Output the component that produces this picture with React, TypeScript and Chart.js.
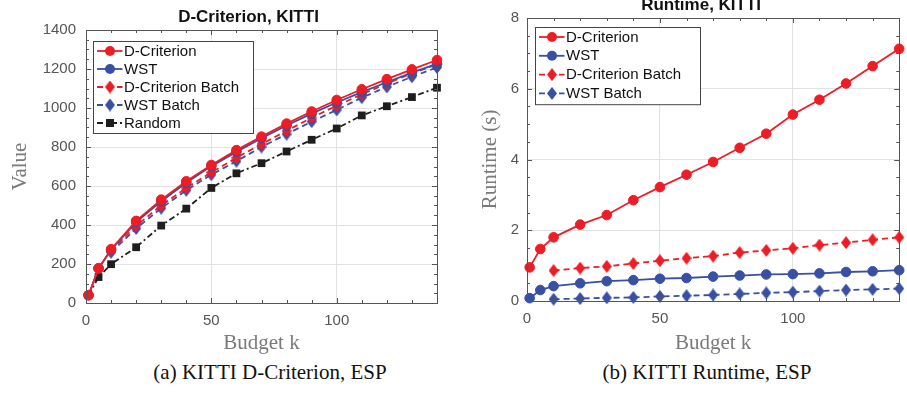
import React, { useEffect, useRef } from "react";
import { Chart, registerables } from "chart.js";

Chart.register(...registerables);

// ---------- data ----------
const budgets = [1, 5, 10, 20, 30, 40, 50, 60, 70, 80, 90, 100, 110, 120, 130, 140];
const batchBudgets = [10, 20, 30, 40, 50, 60, 70, 80, 90, 100, 110, 120, 130, 140];

const valueDCrit = [40, 178, 276, 421, 530, 624, 708, 784, 853, 920, 982, 1041, 1096, 1148, 1198, 1246];
const valueWST = [40, 177, 272, 415, 522, 617, 702, 775, 845, 910, 971, 1028, 1081, 1132, 1181, 1226];
const valueDCritBatch = [268, 396, 500, 590, 670, 745, 815, 883, 950, 1012, 1070, 1125, 1178, 1223];
const valueWSTBatch = [260, 382, 486, 578, 658, 727, 800, 866, 930, 990, 1053, 1108, 1160, 1208];
const valueRandom = [40, 133, 199, 286, 397, 484, 590, 665, 717, 777, 837, 895, 962, 1009, 1056, 1104];

const runtimeDCrit = [0.95, 1.47, 1.8, 2.16, 2.43, 2.85, 3.22, 3.57, 3.93, 4.33, 4.73, 5.27, 5.69, 6.15, 6.64, 7.13];
const runtimeWST = [0.08, 0.31, 0.42, 0.5, 0.56, 0.59, 0.63, 0.65, 0.69, 0.72, 0.75, 0.76, 0.78, 0.82, 0.84, 0.87];
const runtimeDCritBatch = [0.86, 0.93, 0.98, 1.06, 1.14, 1.21, 1.27, 1.37, 1.43, 1.49, 1.58, 1.65, 1.73, 1.8];
const runtimeWSTBatch = [0.05, 0.07, 0.09, 0.1, 0.13, 0.15, 0.17, 0.2, 0.23, 0.25, 0.28, 0.31, 0.33, 0.35];

const labelDCrit = "D-Criterion";
const labelWST = "WST";
const labelDCritBatch = "D-Criterion Batch";
const labelWSTBatch = "WST Batch";
const labelRandom = "Random";

const RED = "#ee1c25";
const BLUE = "#3850a3";
const BLACK = "#1e1e1e";

const SANS = "'Liberation Sans', Arial, Helvetica, sans-serif";
const SERIF = "'Liberation Serif', 'Times New Roman', serif";

function makeDiamond(color: string, w: number, h: number) {
  const c = document.createElement("canvas");
  c.width = w;
  c.height = h;
  const g = c.getContext("2d")!;
  g.fillStyle = color;
  g.beginPath();
  g.moveTo(w / 2, 0);
  g.lineTo(w, h / 2);
  g.lineTo(w / 2, h);
  g.lineTo(0, h / 2);
  g.closePath();
  g.fill();
  return c;
}

function pts(xs: number[], ys: number[]) {
  return xs.map((x, i) => ({ x, y: ys[i] }));
}

type Cfg = {
  title: string;
  titleDx: number;
  xTitle: string;
  yTitle: string;
  yTitleX: number;
  xTitleY: number;
  yMax: number;
  yStep: number;
  yMinor: number;
  yLeftWidth: number;
  xHeight: number;
  padTop: number;
  padRight: number;
  legendDx: number;
  legendDy: number;
  legendRow: number;
  legendW: number;
  yTickPad: number;
};

function series(label: string, xs: number[], ys: number[], color: string, kind: string, dash: number[], diamond: any) {
  const base: any = {
    label,
    data: pts(xs, ys),
    borderColor: color,
    backgroundColor: color,
    borderWidth: 1.8,
    borderDash: dash,
    pointBorderColor: color,
    pointBackgroundColor: color,
    clip: false,
    _kind: kind,
  };
  if (kind === "circle") {
    base.pointStyle = "circle";
    base.pointRadius = 4.8;
    base.pointBorderWidth = 1;
  } else if (kind === "diamond") {
    base.pointStyle = diamond;
    base.pointRadius = 6;
    base._img = diamond;
  } else {
    base.pointStyle = "rect";
    base.pointRadius = 5.5;
    base.pointBorderWidth = 0;
  }
  return base;
}

function buildChart(canvas: HTMLCanvasElement, datasets: any[], cfg: Cfg) {
  const framePlugin = {
    id: "matlabFrame",
    afterDraw(chart: any) {
      const ctx = chart.ctx;
      const { left, right, top, bottom } = chart.chartArea;
      const xs = chart.scales.x;
      const ys = chart.scales.y;
      ctx.save();
      // frame
      ctx.strokeStyle = "#555";
      ctx.lineWidth = 1;
      ctx.setLineDash([]);
      ctx.strokeRect(Math.round(left) + 0.5, Math.round(top) + 0.5, Math.round(right - left), Math.round(bottom - top));
      // ticks
      ctx.beginPath();
      for (let v = 0; v <= 140; v += 10) {
        const px = Math.round(xs.getPixelForValue(v)) + 0.5;
        const len = v % 50 === 0 ? 5 : 3;
        ctx.moveTo(px, bottom);
        ctx.lineTo(px, bottom - len);
        ctx.moveTo(px, top);
        ctx.lineTo(px, top + len);
      }
      for (let v = 0; v <= cfg.yMax + 1e-9; v += cfg.yMinor) {
        const py = Math.round(ys.getPixelForValue(v)) + 0.5;
        const isMajor = Math.abs(v / cfg.yStep - Math.round(v / cfg.yStep)) < 1e-6;
        const len = isMajor ? 5 : 3;
        ctx.moveTo(left, py);
        ctx.lineTo(left + len, py);
        ctx.moveTo(right, py);
        ctx.lineTo(right - len, py);
      }
      ctx.stroke();

      // title
      ctx.fillStyle = "#111";
      ctx.font = `bold 17px ${SANS}`;
      ctx.textAlign = "center";
      ctx.textBaseline = "alphabetic";
      ctx.fillText(cfg.title, (left + right) / 2 + cfg.titleDx, top - 8);

      // axis titles
      ctx.fillStyle = "#7a7a7a";
      ctx.font = `21px ${SERIF}`;
      ctx.textBaseline = "middle";
      ctx.fillText(cfg.xTitle, (left + right) / 2, cfg.xTitleY);
      ctx.save();
      ctx.translate(cfg.yTitleX, (top + bottom) / 2);
      ctx.rotate(-Math.PI / 2);
      ctx.fillText(cfg.yTitle, 0, 0);
      ctx.restore();

      // legend
      const bx = Math.round(left + cfg.legendDx) + 0.5;
      const by = Math.round(top + cfg.legendDy) + 0.5;
      const n = chart.data.datasets.length;
      const bh = n * cfg.legendRow + 2;
      ctx.fillStyle = "#fff";
      ctx.fillRect(bx, by, cfg.legendW, bh);
      ctx.strokeStyle = "#444";
      ctx.lineWidth = 1;
      ctx.strokeRect(bx, by, cfg.legendW, bh);
      chart.data.datasets.forEach((ds: any, i: number) => {
        const cy = by + 9.5 + i * cfg.legendRow;
        ctx.strokeStyle = ds.borderColor;
        ctx.lineWidth = 1.8;
        ctx.setLineDash(ds.borderDash || []);
        ctx.beginPath();
        ctx.moveTo(bx + 3.5, cy);
        ctx.lineTo(bx + 29, cy);
        ctx.stroke();
        ctx.setLineDash([]);
        const mx = bx + 16.5;
        ctx.fillStyle = ds.borderColor;
        if (ds._kind === "circle") {
          ctx.beginPath();
          ctx.arc(mx, cy, 5, 0, Math.PI * 2);
          ctx.fill();
        } else if (ds._kind === "diamond") {
          const img = ds._img;
          ctx.drawImage(img, mx - img.width / 2, cy - img.height / 2);
        } else {
          ctx.fillRect(mx - 4, cy - 4, 8, 8);
        }
        ctx.fillStyle = "#111";
        ctx.font = `15px ${SANS}`;
        ctx.textAlign = "left";
        ctx.textBaseline = "middle";
        ctx.fillText(ds.label, bx + 30.5, cy + 0.5);
      });
      ctx.restore();
    },
  };

  return new Chart(canvas, {
    type: "line",
    data: { datasets },
    options: {
      animation: false,
      responsive: false,
      maintainAspectRatio: false,
      layout: { padding: { left: 0, right: cfg.padRight, top: cfg.padTop, bottom: 0 } },
      plugins: { legend: { display: false }, title: { display: false }, tooltip: { enabled: false } },
      elements: { line: { tension: 0 } },
      scales: {
        x: {
          type: "linear",
          min: 0,
          max: 140,
          afterFit: (s: any) => {
            s.height = cfg.xHeight;
          },
          ticks: {
            stepSize: 50,
            includeBounds: false,
            padding: 9,
            color: "#555",
            font: { family: SANS, size: 15 },
            maxRotation: 0,
            callback: (v: any) => String(v),
          },
          grid: { color: "#e2e2e2", lineWidth: 1, drawTicks: false },
          border: { display: false },
        },
        y: {
          type: "linear",
          min: 0,
          max: cfg.yMax,
          afterFit: (s: any) => {
            s.width = cfg.yLeftWidth;
          },
          ticks: {
            stepSize: cfg.yStep,
            padding: cfg.yTickPad,
            color: "#555",
            font: { family: SANS, size: 15 },
            callback: (v: any) => String(v),
          },
          grid: { color: "#e2e2e2", lineWidth: 1, drawTicks: false },
          border: { display: false },
        },
      },
    } as any,
    plugins: [framePlugin],
  });
}

export default function App() {
  const leftRef = useRef<HTMLCanvasElement>(null);
  const rightRef = useRef<HTMLCanvasElement>(null);

  useEffect(() => {
    const dRed = makeDiamond(RED, 10, 13);
    const dBlue = makeDiamond(BLUE, 10, 13);

    const left = buildChart(
      leftRef.current!,
      [
        series(labelDCrit, budgets, valueDCrit, RED, "circle", [], null),
        series(labelWST, budgets, valueWST, BLUE, "circle", [], null),
        series(labelDCritBatch, batchBudgets, valueDCritBatch, RED, "diamond", [6, 4], dRed),
        series(labelWSTBatch, batchBudgets, valueWSTBatch, BLUE, "diamond", [6, 4], dBlue),
        series(labelRandom, budgets, valueRandom, BLACK, "square", [6, 3, 2, 3], null),
      ],
      {
        title: "D-Criterion, KITTI",
        titleDx: -13,
        xTitle: "Budget k",
        yTitle: "Value",
        yTitleX: 20,
        xTitleY: 343,
        yMax: 1400,
        yStep: 200,
        yMinor: 50,
        yLeftWidth: 86,
        xHeight: 57,
        padTop: 30,
        padRight: 18,
        legendDx: 7,
        legendDy: 11,
        legendRow: 18,
        legendW: 160,
        yTickPad: 10,
      }
    );

    const right = buildChart(
      rightRef.current!,
      [
        series(labelDCrit, budgets, runtimeDCrit, RED, "circle", [], null),
        series(labelWST, budgets, runtimeWST, BLUE, "circle", [], null),
        series(labelDCritBatch, batchBudgets, runtimeDCritBatch, RED, "diamond", [6, 4], dRed),
        series(labelWSTBatch, batchBudgets, runtimeWSTBatch, BLUE, "diamond", [6, 4], dBlue),
      ],
      {
        title: "Runtime, KITTI",
        titleDx: -12,
        xTitle: "Budget k",
        yTitle: "Runtime (s)",
        yTitleX: 35,
        xTitleY: 343,
        yMax: 8,
        yStep: 2,
        yMinor: 0.5,
        yLeftWidth: 72,
        xHeight: 59,
        padTop: 18,
        padRight: 2,
        legendDx: 8,
        legendDy: 8.5,
        legendRow: 18.8,
        legendW: 165,
        yTickPad: 8,
      }
    );

    return () => {
      left.destroy();
      right.destroy();
    };
  }, []);

  const capStyle: React.CSSProperties = {
    position: "absolute",
    top: 361,
    width: 400,
    textAlign: "center",
    fontFamily: SERIF,
    fontSize: 21,
    lineHeight: "22px",
    color: "#111",
    whiteSpace: "nowrap",
  };

  return (
    <div
      style={{
        position: "fixed",
        left: 0,
        top: 0,
        width: 907,
        height: 394,
        background: "#fff",
        overflow: "hidden",
      }}
    >
      <canvas ref={leftRef} width={455} height={360} style={{ position: "absolute", left: 0, top: 0, width: 455, height: 360 }} />
      <canvas ref={rightRef} width={452} height={360} style={{ position: "absolute", left: 455, top: 0, width: 452, height: 360 }} />
      <div style={{ ...capStyle, left: 270 - 200 }}>(a) KITTI D-Criterion, ESP</div>
      <div style={{ ...capStyle, left: 707 - 200 }}>(b) KITTI Runtime, ESP</div>
    </div>
  );
}
